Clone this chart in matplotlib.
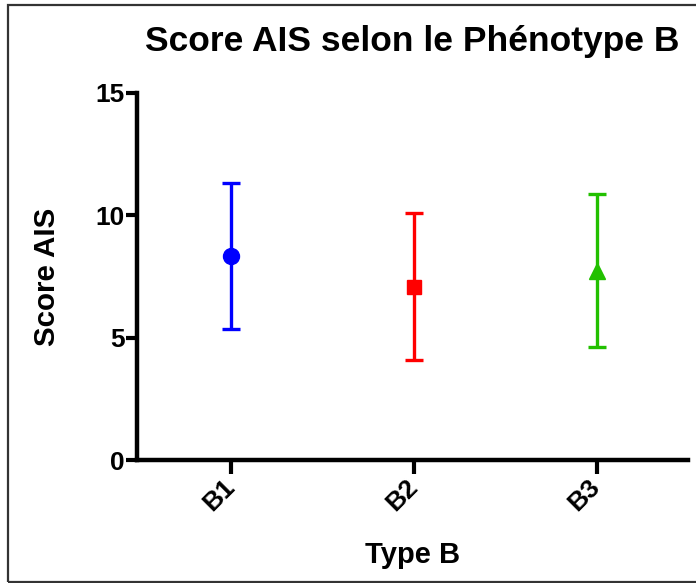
import matplotlib
matplotlib.use("Agg")
import matplotlib.pyplot as plt
from matplotlib.patches import Rectangle

categories = ["B1", "B2", "B3"]
means = [8.34, 7.08, 7.74]
errors = [2.97, 3.00, 3.14]
colors = ["#0000ff", "#ff0000", "#22c000"]
markers = ["o", "s", "^"]
yticks = [0, 5, 10, 15]

plt.rcParams['font.family'] = ['Liberation Sans', 'DejaVu Sans']
plt.rcParams['font.weight'] = 'bold'

W, H = 696, 583
fig = plt.figure(figsize=(W / 100, H / 100), dpi=100)
ax = fig.add_axes([137 / W, 1 - 460 / H, (688 - 137) / W, (460 - 93) / H])

for i, (m, e, c, mk) in enumerate(zip(means, errors, colors, markers)):
    ax.errorbar(i, m, yerr=e, fmt=mk, color=c, ecolor=c, mec=c, mfc=c,
                elinewidth=2.4, capsize=6.5, capthick=2.4,
                markersize=11.5 if mk != "s" else 10, zorder=3)

ax.set_xlim(-0.515, 2.5)
ax.set_ylim(0, 15)
ax.set_yticks(yticks)
ax.set_yticklabels([str(t) for t in yticks], fontsize=19, fontweight='bold')
ax.set_xticks(range(len(categories)))
ax.set_xticklabels(categories, fontsize=19, fontweight='bold', rotation=45,
                   ha='right', va='center', rotation_mode='anchor')

for s in ['top', 'right']:
    ax.spines[s].set_visible(False)
for s in ['left', 'bottom']:
    ax.spines[s].set_linewidth(3.2)
ax.tick_params(axis='y', length=8, width=3, pad=1)
ax.tick_params(axis='x', length=10, width=3, pad=7)

ax.set_ylabel("Score AIS", fontsize=21.3, fontweight='bold', labelpad=25)
ax.set_xlabel("Type B", fontsize=21, fontweight='bold', labelpad=18)
ax.set_title("Score AIS selon le Phénotype B", fontsize=25.5, fontweight='bold', pad=30)

fig.patches.append(Rectangle((8 / W, 1 - 582 / H), 1.0, (582 - 5) / H,
                             transform=fig.transFigure, fill=False,
                             edgecolor='#333333', linewidth=1.6, zorder=10))

fig.savefig("out.png", dpi=100)
